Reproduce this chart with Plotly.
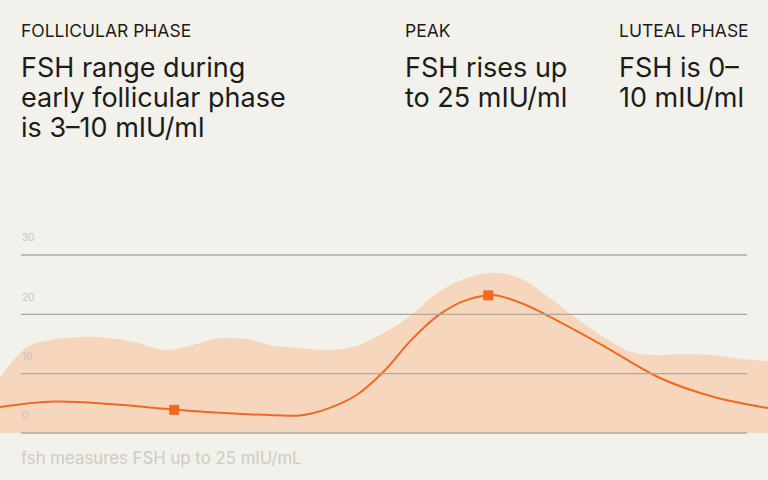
import plotly.graph_objects as go

# cycle day (x) and FSH level in mIU/ml (y)
band_days = list(range(0, 29))
band_upper = [9.3, 14.5, 15.8, 16.2, 16.0, 15.2, 14.0, 14.8, 16.0, 15.8, 14.7, 14.3, 14.0, 14.7,
              16.9, 19.9, 23.8, 26.1, 27.0, 26.0, 22.9, 19.4, 16.2, 13.7, 13.1, 13.3, 13.1, 12.5, 12.1]

line_days = [0, 2, 4, 6, 8, 10, 11, 12, 13, 14, 15, 16, 17, 18, 19, 20, 22, 24, 26, 28]
line_fsh = [4.4, 5.3, 4.9, 4.1, 3.4, 3.0, 3.0, 4.2, 6.4, 10.4, 15.7, 19.9, 22.4, 23.2, 21.9, 19.7, 14.7, 9.4, 6.1, 4.2]

marker_days = [6.35, 17.8]
marker_fsh = [3.9, 23.2]

grid_values = [0, 10, 20, 30]
tick_labels = ["0", "10", "20", "30"]

phases = ["FOLLICULAR PHASE", "PEAK", "LUTEAL PHASE"]
phase_text = [
    ["FSH range during", "early follicular phase", "is 3\u201310 mIU/ml"],
    ["FSH rises up", "to 25 mIU/ml"],
    ["FSH is 0\u2013", "10 mIU/ml"],
]
phase_x_px = [19, 403, 617]

caption = "fsh measures FSH up to 25 mIU/mL"

W, H = 768, 480
BG = "#F2F1EB"
INK = "#1C1C1A"
ORANGE = "#EE6A22"
PEACH = "#F7D6BE"
FONT = "Inter"

# y axis stretched over whole canvas: 0 -> 433px, 30 -> 255px
px_per_unit = (433 - 255) / 30
y_top = 433 / px_per_unit
y_bottom = -(H - 433) / px_per_unit

fig = go.Figure()

fig.add_trace(go.Scatter(
    x=band_days, y=band_upper, mode="lines", line=dict(width=0, shape="spline", smoothing=1.0),
    fill="tozeroy", fillcolor=PEACH, hoverinfo="skip", showlegend=False,
))

for v in grid_values:
    fig.add_shape(type="line", xref="paper", yref="y", x0=21 / W, x1=747 / W, y0=v, y1=v,
                  line=dict(color="#ABA8A0", width=1.3), layer="above")

fig.add_trace(go.Scatter(
    x=line_days, y=line_fsh, mode="lines", line=dict(color=ORANGE, width=2, shape="spline", smoothing=1.0),
    hoverinfo="skip", showlegend=False,
))
fig.add_trace(go.Scatter(
    x=marker_days, y=marker_fsh, mode="markers",
    marker=dict(symbol="square", size=10, color=ORANGE),
    showlegend=False,
))

for v, t in zip(grid_values, tick_labels):
    fig.add_annotation(x=20 / W, xref="paper", y=v + 3, yref="y", text=t, showarrow=False,
                       xanchor="left", yanchor="middle", font=dict(family=FONT, size=10, color="#C6C4BC"))

for head, lines, xp in zip(phases, phase_text, phase_x_px):
    fig.add_annotation(x=xp / W, xref="paper", y=1 - 31 / H, yref="paper", text=head, showarrow=False,
                       xanchor="left", yanchor="middle", font=dict(family=FONT, size=17.5, color=INK))
    for i, ln in enumerate(lines):
        fig.add_annotation(x=xp / W, xref="paper", y=1 - (68 + 30 * i) / H, yref="paper", text=ln,
                           showarrow=False, xanchor="left", yanchor="middle",
                           font=dict(family=FONT, size=27, color=INK))

fig.add_annotation(x=19 / W, xref="paper", y=1 - 458 / H, yref="paper", text=caption, showarrow=False,
                   xanchor="left", yanchor="middle", font=dict(family=FONT, size=16.8, color="#CDCBC4"))

fig.update_layout(
    width=W, height=H,
    margin=dict(l=0, r=0, t=0, b=0),
    paper_bgcolor=BG, plot_bgcolor=BG,
    xaxis=dict(range=[0, 28], visible=False, fixedrange=True),
    yaxis=dict(range=[y_bottom, y_top], visible=False, fixedrange=True),
)

# drop the default page margin so the figure sits flush in the window
fig.write_html("out.html", config={"displayModeBar": False},
               post_script="document.body.style.margin='0';document.body.style.overflow='hidden';")
